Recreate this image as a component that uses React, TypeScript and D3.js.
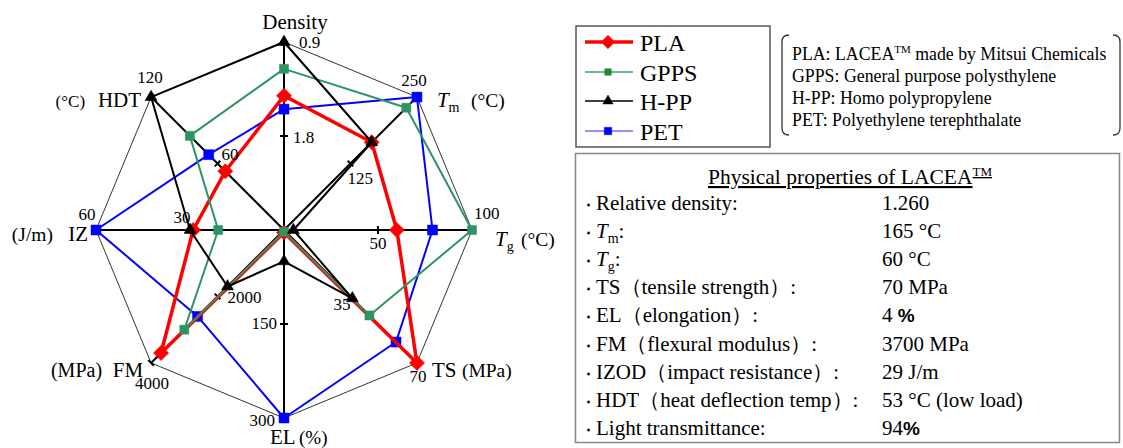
import React from "react";
import * as d3 from "d3";

// ---------- data ----------
const axisKeys = ["Density", "Tm", "Tg", "TS", "EL", "FM", "IZ", "HDT"];
const axisMax = [0.9, 250, 100, 70, 300, 4000, 60, 120];
const axisMid = [1.8, 125, 50, 35, 150, 2000, 30, 60];
const axisMaxLabels = ["0.9", "250", "100", "70", "300", "4000", "60", "120"];
const axisMidLabels = ["1.8", "125", "50", "35", "150", "2000", "30", "60"];

const seriesNames = ["PLA", "GPPS", "H-PP", "PET"];
const plaValues = [1.26, 165, 60, 70, 4, 3700, 29, 53];
const gppsValues = [1.05, 230, 100, 45, 3, 3000, 21, 85];
const hppValues = [0.9, 165, 5, 36, 50, 1700, 30, 120];
const petValues = [1.4, 250, 79, 59, 300, 2600, 60, 68];

const noteLines = [
  ["PLA: LACEA", "TM", " made by Mitsui Chemicals"],
  ["GPPS: General purpose polysthylene"],
  ["H-PP:  Homo polypropylene"],
  ["PET: Polyethylene terephthalate"],
];

const propLabels = [
  "Relative density:",
  "Tm:",
  "Tg:",
  "TS（tensile strength）:",
  "EL（elongation）:",
  "FM（flexural modulus）:",
  "IZOD（impact resistance）:",
  "HDT（heat deflection temp）:",
  "Light transmittance:",
];
const propValues = [
  "1.260",
  "165 °C",
  "60 °C",
  "70 MPa",
  "4 %",
  "3700 MPa",
  "29 J/m",
  "53 °C (low load)",
  "94%",
];

// ---------- layout ----------
const W = 1123;
const H = 448;
const cx = 284;
const cy = 230;
const R = 188;
const SERIF = '"Liberation Serif", "Times New Roman", serif';

const angle = d3.scaleLinear().domain([0, axisKeys.length]).range([0, 2 * Math.PI]);
const radial: ((v: number) => number)[] = axisMax.map((m, i) =>
  i === 0
    ? d3.scalePow().exponent(-1).domain([axisMax[0], axisMid[0]]).range([R, R / 2])
    : d3.scaleLinear().domain([0, m]).range([0, R])
);
const pt = (i: number, r: number): [number, number] => [
  cx + r * Math.sin(angle(i)),
  cy - r * Math.cos(angle(i)),
];

const seriesData = [plaValues, gppsValues, hppValues, petValues];
const seriesStyle = [
  { color: "#ff0000", width: 3.5, symbol: "diamond", size: 115, stroke: "#ff0000" },
  { color: "#2e9463", width: 2, symbol: "square", size: 82, stroke: "#2e9463" },
  { color: "#000000", width: 2, symbol: "triangle", size: 62, stroke: "#000" },
  { color: "#0000ff", width: 2, symbol: "square", size: 100, stroke: "#0000ff" },
];
const drawOrder = [3, 0, 1, 2];

const symPath = (type: string, size: number) => {
  const t = type === "triangle" ? d3.symbolTriangle : d3.symbolSquare;
  return d3.symbol().type(t).size(size)() as string;
};

const line = d3
  .lineRadial<number>()
  .angle((_d, i) => angle(i))
  .radius((d, i) => radial[i](d))
  .curve(d3.curveLinearClosed);

function Marker({ x, y, s }: { x: number; y: number; s: any }) {
  const rot = s.symbol === "diamond" ? 45 : 0;
  return (
    <path
      d={symPath(s.symbol, s.size)}
      transform={`translate(${x},${y}) rotate(${rot})`}
      fill={s.color}
      stroke={s.stroke}
      strokeWidth={0.5}
    />
  );
}

function AxisName({ i }: { i: number }) {
  const [ex, ey] = pt(i, R);
  const big = 21;
  switch (axisKeys[i]) {
    case "Density":
      return (
        <text x={ex + 11} y={ey - 13} fontSize={big} textAnchor="middle">Density</text>
      );
    case "Tm":
      return (
        <g>
          <text x={ex + 20} y={ey + 10} fontSize={big}>
            <tspan fontStyle="italic">T</tspan>
            <tspan fontSize={14} dy={5}>m</tspan>
          </text>
          <text x={ex + 54} y={ey + 10} fontSize={19.5}>(°C)</text>
        </g>
      );
    case "Tg":
      return (
        <g>
          <text x={ex + 23} y={ey + 16} fontSize={big}>
            <tspan fontStyle="italic">T</tspan>
            <tspan fontSize={14} dy={5}>g</tspan>
          </text>
          <text x={ex + 49} y={ey + 16} fontSize={19.5}>(°C)</text>
        </g>
      );
    case "TS":
      return (
        <g>
          <text x={ex + 15} y={ey + 14} fontSize={big}>TS</text>
          <text x={ex + 45} y={ey + 14} fontSize={19.5}>(MPa)</text>
        </g>
      );
    case "EL":
      return (
        <g>
          <text x={ex - 14} y={ey + 26} fontSize={big}>EL</text>
          <text x={ex + 15} y={ey + 26} fontSize={19}>(%)</text>
        </g>
      );
    case "FM":
      return (
        <g>
          <text x={ex - 8} y={ey + 14} fontSize={big} textAnchor="end">FM</text>
          <text x={ex - 49} y={ey + 14} fontSize={20} textAnchor="end">(MPa)</text>
        </g>
      );
    case "IZ":
      return (
        <g>
          <text x={ex - 43} y={ey + 11} fontSize={19.5} textAnchor="end">(J/m)</text>
          <text x={ex - 8} y={ey + 11} fontSize={big} textAnchor="end">IZ</text>
        </g>
      );
    case "HDT":
      return (
        <g>
          <text x={ex - 10} y={ey + 10} fontSize={big} textAnchor="end">HDT</text>
          <text x={ex - 66} y={ey + 10} fontSize={17} textAnchor="end">(°C)</text>
        </g>
      );
  }
  return null;
}

const maxLabelOffset: [number, number, string][] = [
  [15, 6, "start"],
  [-3, -11, "middle"],
  [2, -11, "start"],
  [1, 19, "middle"],
  [-9, 8, "end"],
  [1, 26, "middle"],
  [-9, -10, "middle"],
  [-1, -14, "middle"],
];
const midLabelOffset: [number, number, string][] = [
  [9, 7, "start"],
  [-3, 20, "start"],
  [0, 19, "middle"],
  [0, 14, "end"],
  [-7, 5, "end"],
  [10, 7, "start"],
  [-8, -7, "middle"],
  [4, -4, "start"],
];

function PropLabel({ label, x, y }: { label: string; x: number; y: number }) {
  if (label === "Tm:" || label === "Tg:") {
    return (
      <text x={x} y={y}>
        <tspan fontStyle="italic">T</tspan>
        <tspan fontSize={14} dy={5}>{label[1]}</tspan>
        <tspan dy={-5}>:</tspan>
      </text>
    );
  }
  return <text x={x} y={y}>{label}</text>;
}

function PropValue({ v, x, y }: { v: string; x: number; y: number }) {
  if (v.endsWith("%")) {
    return (
      <text x={x} y={y}>
        {v.slice(0, -1)}
        <tspan fontWeight="bold" style={{ fontFamily: '"Liberation Sans", Arial, sans-serif' }} fontSize={19}>%</tspan>
      </text>
    );
  }
  return <text x={x} y={y}>{v}</text>;
}

export default function App() {
  const n = axisKeys.length;
  const frame = d3.range(n).map((i) => pt(i, R));
  const tickLen = 4;

  const legendY = [42, 72, 101, 131];
  const rowY = d3.range(propLabels.length).map((i) => 210 + i * 28.1);

  return (
    <svg
      width={W}
      height={H}
      style={{ position: "absolute", left: 0, top: 0, background: "#fff", fontFamily: SERIF }}
    >
      <rect width={W} height={H} fill="#fff" />
      {/* frame */}
      <polygon points={frame.map((p) => p.join(",")).join(" ")} fill="none" stroke="#333" strokeWidth={1} />
      {/* spokes */}
      {frame.map(([x, y], i) => (
        <line key={"s" + i} x1={cx} y1={cy} x2={x} y2={y} stroke="#000" strokeWidth={2} />
      ))}
      {/* ticks */}
      {d3.range(n).map((i) => {
        const a = angle(i);
        const px = Math.cos(a) * tickLen;
        const py = Math.sin(a) * tickLen;
        return [axisMid[i], axisMax[i]].map((v, k) => {
          const [x, y] = pt(i, radial[i](v));
          return (
            <line key={`t${i}-${k}`} x1={x - px} y1={y - py} x2={x + px} y2={y + py} stroke="#000" strokeWidth={2} />
          );
        });
      })}
      {/* series */}
      {drawOrder.map((si) => {
        const s = seriesStyle[si];
        const vals = seriesData[si];
        return (
          <g key={"ser" + si}>
            <path
              d={line(vals) as string}
              transform={`translate(${cx},${cy})`}
              fill="none"
              stroke={s.color}
              strokeWidth={s.width}
              strokeLinejoin="round"
            />
            {vals.map((v, i) => {
              const [x, y] = pt(i, radial[i](v));
              return <Marker key={i} x={x} y={y} s={s} />;
            })}
          </g>
        );
      })}
      {/* tick labels */}
      {d3.range(n).map((i) => {
        const [ex, ey] = pt(i, R);
        const [mx, my] = pt(i, radial[i](axisMid[i]));
        const mo = maxLabelOffset[i];
        const md = midLabelOffset[i];
        return (
          <g key={"lab" + i} fontSize={17}>
            <text x={ex + mo[0]} y={ey + mo[1]} textAnchor={mo[2] as any}>{axisMaxLabels[i]}</text>
            <text x={mx + md[0]} y={my + md[1]} textAnchor={md[2] as any}>{axisMidLabels[i]}</text>
          </g>
        );
      })}
      {d3.range(n).map((i) => (
        <AxisName key={"an" + i} i={i} />
      ))}

      {/* legend */}
      <rect x={576} y={26} width={194} height={121} fill="#fff" stroke="#555" strokeWidth={1.5} />
      {seriesNames.map((name, k) => {
        const s = seriesStyle[k];
        const y = legendY[k];
        const lc = k === 3 ? "#6f6fff" : k === 1 ? "#3aa070" : s.color;
        const lw = k === 0 ? 3.5 : 1.5;
        const ls = {
          ...s,
          size: k === 0 ? 90 : k === 1 ? 40 : k === 2 ? 45 : 55,
          stroke: k === 1 ? "#006400" : s.stroke,
          color: k === 1 ? "#1f8a3a" : s.color,
        };
        return (
          <g key={"lg" + k}>
            <line x1={585} y1={y} x2={633} y2={y} stroke={lc} strokeWidth={lw} />
            <Marker x={608} y={y} s={ls} />
            <text x={640} y={y + 8.5} fontSize={24}>{name}</text>
          </g>
        );
      })}

      {/* notes */}
      <path d="M789,35 Q782,35 782,42 L782,128 Q782,135 789,135" fill="none" stroke="#333" strokeWidth={1.3} />
      <path d="M1113,35 Q1120,35 1120,42 L1120,128 Q1120,135 1113,135" fill="none" stroke="#333" strokeWidth={1.3} />
      {noteLines.map((parts, k) => (
        <text key={"nt" + k} x={792} y={60 + k * 22} fontSize={17.8}>
          {parts.length === 3 ? (
            <>
              {parts[0]}
              <tspan fontSize={11} dy={-7}>{parts[1]}</tspan>
              <tspan dy={7}>{parts[2]}</tspan>
            </>
          ) : (
            parts[0]
          )}
        </text>
      ))}

      {/* properties table */}
      <rect x={575.5} y={153.5} width={544} height={289} fill="#fff" stroke="#888" strokeWidth={1.5} />
      <text x={850} y={184} fontSize={21.5} textAnchor="middle" textDecoration="underline">
        Physical properties of LACEA<tspan fontSize={13} dy={-8}>TM</tspan>
      </text>
      <g fontSize={21}>
        {propLabels.map((lab, k) => (
          <g key={"pr" + k}>
            <text x={585} y={rowY[k]} fontSize={14} fontWeight="bold">･</text>
            <PropLabel label={lab} x={596} y={rowY[k]} />
            <PropValue v={propValues[k]} x={882} y={rowY[k]} />
          </g>
        ))}
      </g>
    </svg>
  );
}
